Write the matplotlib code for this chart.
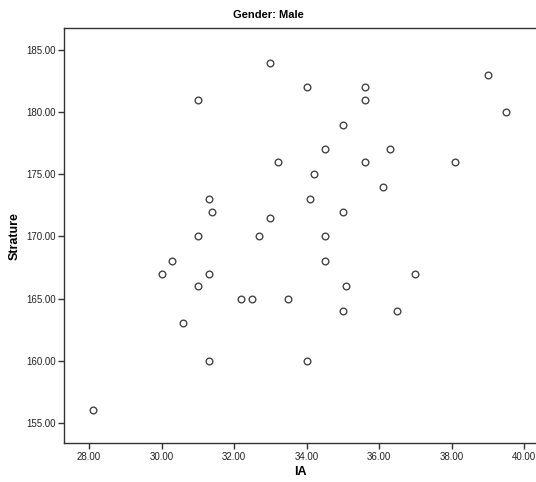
import matplotlib
matplotlib.use("Agg")
import matplotlib.pyplot as plt

plt.rcParams['font.family'] = ['Liberation Sans', 'DejaVu Sans']

# IA vs stature, male subjects
ia = [28.1, 30.0, 30.3, 30.6, 31.0, 31.0, 31.0, 31.3, 31.3, 31.3,
      31.4, 32.2, 32.5, 32.7, 33.0, 33.0, 33.2, 33.5, 34.0, 34.0,
      34.1, 34.2, 34.5, 34.5, 34.5, 35.0, 35.0, 35.0, 35.1, 35.6,
      35.6, 35.6, 36.1, 36.3, 36.5, 37.0, 38.1, 39.0, 39.5]
stature = [156, 167, 168, 163, 181, 170, 166, 173, 167, 160,
           172, 165, 165, 170, 184, 171.5, 176, 165, 182, 160,
           173, 175, 177, 170, 168, 179, 172, 164, 166, 182,
           181, 176, 174, 177, 164, 167, 176, 183, 180]

x_ticks = [28, 30, 32, 34, 36, 38, 40]
y_ticks = [155, 160, 165, 170, 175, 180, 185]

fig = plt.figure(figsize=(5.36, 4.82), dpi=100)
ax = fig.add_axes([0.1194, 0.0803, 0.8806, 0.861])

ax.plot(ia, stature, linestyle='none', marker='o', markersize=4.8,
        markerfacecolor='white', markeredgecolor='#444444', markeredgewidth=1.0)

ax.set_xlim(27.31, 40.33)
ax.set_ylim(153.34, 186.76)
ax.set_xticks(x_ticks)
ax.set_yticks(y_ticks)
ax.set_xticklabels([f"{v:.2f}" for v in x_ticks])
ax.set_yticklabels([f"{v:.2f}" for v in y_ticks])
ax.tick_params(direction='out', length=4, width=1, color='#333333',
               labelsize=7, labelcolor='#222222', pad=2)

for side in ['left', 'bottom', 'top']:
    ax.spines[side].set_color('#333333')
    ax.spines[side].set_linewidth(1)
ax.spines['right'].set_visible(False)

ax.set_xlabel('IA', fontsize=9, fontweight='bold', labelpad=3)
ax.set_ylabel('Strature', fontsize=9, fontweight='bold', labelpad=4)
fig.suptitle('Gender: Male', x=0.5, y=0.98, fontsize=8, fontweight='bold')

fig.savefig('out.png', dpi=100)
